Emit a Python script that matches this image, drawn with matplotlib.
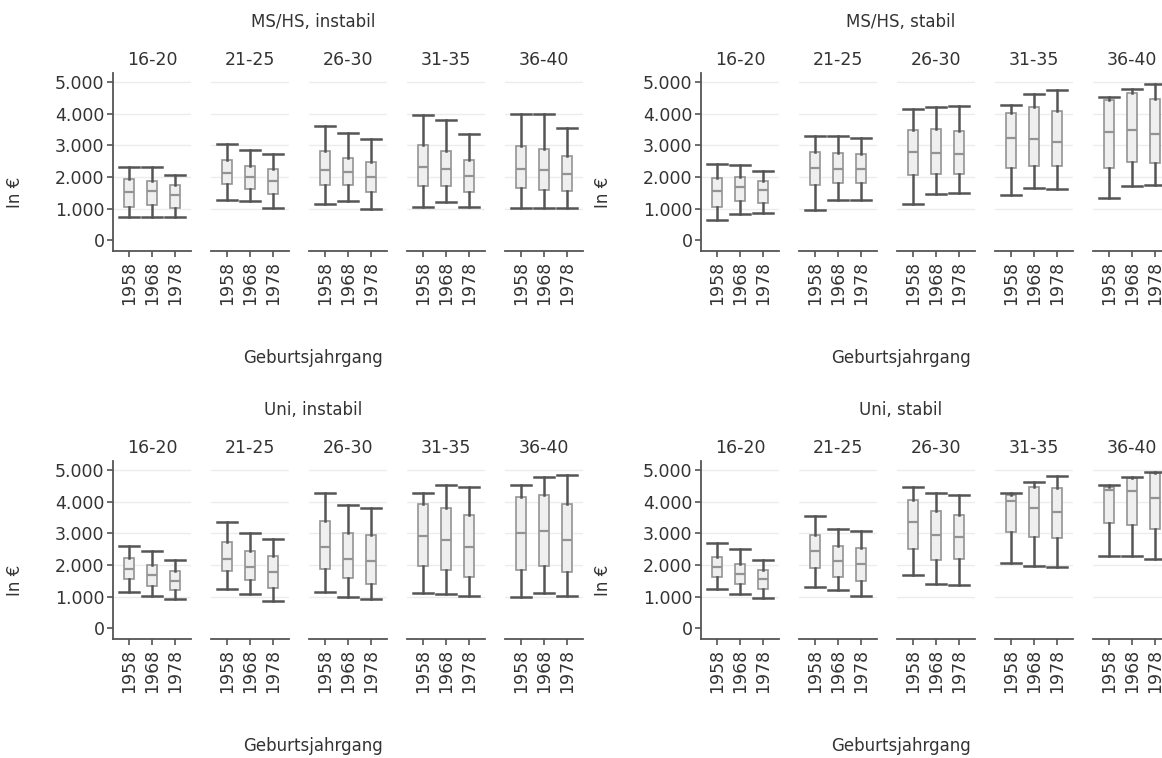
import matplotlib.pyplot as plt

plt.rcParams["font.family"] = ["DejaVu Sans"]
plt.rcParams["font.size"] = 12

W, H = 1162, 758

AGE_GROUPS = ["16-20", "21-25", "26-30", "31-35", "36-40"]
COHORTS = ["1958", "1968", "1978"]
Y_TICKS = [0, 1000, 2000, 3000, 4000, 5000]
Y_TICK_LABELS = ["0", "1.000", "2.000", "3.000", "4.000", "5.000"]
PANEL_TITLES = ["MS/HS, instabil", "MS/HS, stabil", "Uni, instabil", "Uni, stabil"]

# rows = age groups, columns = cohorts 1958 / 1968 / 1978
MI_LOW = [[716, 737, 737], [1274, 1253, 1011], [1137, 1253, 1000], [1063, 1221, 1063], [1032, 1032, 1032]]
MI_Q1 = [[1042, 1105, 1021], [1768, 1632, 1474], [1737, 1737, 1516], [1705, 1726, 1526], [1663, 1600, 1558]]
MI_MED = [[1526, 1547, 1432], [2126, 1989, 1874], [2221, 2147, 2000], [2316, 2242, 2042], [2253, 2211, 2105]]
MI_Q3 = [[1926, 1884, 1747], [2547, 2347, 2253], [2821, 2611, 2484], [3021, 2811, 2537], [2989, 2874, 2663]]
MI_HIGH = [[2305, 2305, 2074], [3053, 2842, 2726], [3600, 3379, 3200], [3947, 3789, 3358], [4000, 4000, 3558]]

MS_LOW = [[642, 821, 853], [947, 1274, 1274], [1147, 1453, 1484], [1421, 1653, 1621], [1326, 1726, 1737]]
MS_Q1 = [[1042, 1242, 1168], [1737, 1821, 1821], [2074, 2105, 2095], [2295, 2358, 2358], [2295, 2484, 2453]]
MS_MED = [[1568, 1684, 1579], [2295, 2263, 2263], [2779, 2747, 2726], [3221, 3200, 3116], [3421, 3484, 3347]]
MS_Q3 = [[1979, 2011, 1884], [2779, 2758, 2716], [3495, 3505, 3463], [4032, 4200, 4074], [4442, 4642, 4474]]
MS_HIGH = [[2400, 2368, 2179], [3284, 3284, 3242], [4158, 4211, 4232], [4274, 4621, 4747], [4537, 4779, 4947]]

UI_LOW = [[1147, 1021, 916], [1242, 1084, 853], [1147, 1000, 916], [1116, 1084, 1021], [989, 1116, 1021]]
UI_Q1 = [[1568, 1347, 1200], [1800, 1537, 1284], [1884, 1579, 1400], [1968, 1832, 1632], [1842, 1968, 1789]]
UI_MED = [[1884, 1674, 1505], [2179, 1947, 1779], [2579, 2189, 2137], [2916, 2789, 2568], [3000, 3074, 2800]]
UI_Q3 = [[2211, 2000, 1811], [2726, 2453, 2274], [3400, 3000, 2958], [3926, 3800, 3589], [4158, 4211, 3916]]
UI_HIGH = [[2600, 2453, 2147], [3347, 3000, 2811], [4263, 3884, 3789], [4263, 4516, 4474], [4537, 4779, 4832]]

US_LOW = [[1242, 1095, 958], [1295, 1211, 1021], [1684, 1411, 1379], [2074, 1979, 1947], [2274, 2274, 2189]]
US_Q1 = [[1611, 1400, 1253], [1916, 1632, 1484], [2516, 2168, 2179], [3053, 2895, 2853], [3316, 3253, 3126]]
US_MED = [[1926, 1716, 1547], [2432, 2116, 2032], [3347, 2958, 2895], [4021, 3811, 3684], [4379, 4326, 4105]]
US_Q3 = [[2253, 2032, 1842], [2958, 2600, 2537], [4053, 3705, 3579], [4221, 4474, 4421], [4474, 4737, 4905]]
US_HIGH = [[2695, 2505, 2147], [3558, 3137, 3074], [4453, 4263, 4211], [4263, 4621, 4800], [4537, 4779, 4947]]

TEXT = "#333333"
DARK = "#555555"
LIGHT = "#939393"


def draw_panel(fig, left, top, title, low, q1, med, q3, high):
    for i, age in enumerate(AGE_GROUPS):
        x0 = left + i * 98
        ax = fig.add_axes([x0 / W, 1 - (top + 178) / H, 78 / W, 178 / H])
        stats = [
            dict(whislo=low[i][j], q1=q1[i][j], med=med[i][j], q3=q3[i][j],
                 whishi=high[i][j], fliers=[])
            for j in range(len(COHORTS))
        ]
        ax.bxp(
            stats, positions=range(len(COHORTS)), widths=0.46, capwidths=0.87,
            patch_artist=True, showfliers=False,
            boxprops=dict(facecolor="#efefef", edgecolor=LIGHT, linewidth=1.2),
            medianprops=dict(color=LIGHT, linewidth=1.6),
            whiskerprops=dict(color=DARK, linewidth=1.8),
            capprops=dict(color=DARK, linewidth=1.8),
        )
        ax.set_xlim(-0.7, 2.7)
        ax.set_ylim(-345, 5290)
        ax.set_xticks(range(len(COHORTS)), COHORTS, rotation=90)
        ax.set_yticks(Y_TICKS, Y_TICK_LABELS)
        ax.yaxis.grid(True, color="#ececec", linewidth=1)
        ax.get_ygridlines()[0].set_visible(False)
        ax.set_axisbelow(True)
        for side in ["top", "right"]:
            ax.spines[side].set_visible(False)
        ax.spines["bottom"].set_color(DARK)
        ax.spines["bottom"].set_linewidth(1.3)
        ax.tick_params(axis="x", colors=DARK, labelcolor=TEXT, length=4, width=1.2,
                       pad=3, labelsize=12.5)
        if i == 0:
            ax.spines["left"].set_color(DARK)
            ax.spines["left"].set_linewidth(1.3)
            ax.tick_params(axis="y", colors=DARK, labelcolor=TEXT, length=4, width=1.2,
                           pad=2, labelsize=12.5)
        else:
            ax.spines["left"].set_visible(False)
            ax.tick_params(axis="y", length=0, labelleft=False)
        ax.set_facecolor("none")
        fig.text((x0 + 39) / W, 1 - (top - 13) / H, age, ha="center", va="center",
                 color=TEXT, fontsize=12.5)

    fig.text((left + 200) / W, 1 - (top - 51) / H, title, ha="center", va="center",
             color=TEXT, fontsize=12)
    fig.text((left + 200) / W, 1 - (top + 285) / H, "Geburtsjahrgang", ha="center",
             va="center", color=TEXT, fontsize=12)
    fig.text((left - 98) / W, 1 - (top + 119) / H, "In €", ha="center", va="center",
             rotation=90, color=TEXT, fontsize=12)


fig = plt.figure(figsize=(W / 100, H / 100), dpi=100)
draw_panel(fig, 113, 73, PANEL_TITLES[0], MI_LOW, MI_Q1, MI_MED, MI_Q3, MI_HIGH)
draw_panel(fig, 701, 73, PANEL_TITLES[1], MS_LOW, MS_Q1, MS_MED, MS_Q3, MS_HIGH)
draw_panel(fig, 113, 461, PANEL_TITLES[2], UI_LOW, UI_Q1, UI_MED, UI_Q3, UI_HIGH)
draw_panel(fig, 701, 461, PANEL_TITLES[3], US_LOW, US_Q1, US_MED, US_Q3, US_HIGH)
fig.savefig("out.png", dpi=100)
